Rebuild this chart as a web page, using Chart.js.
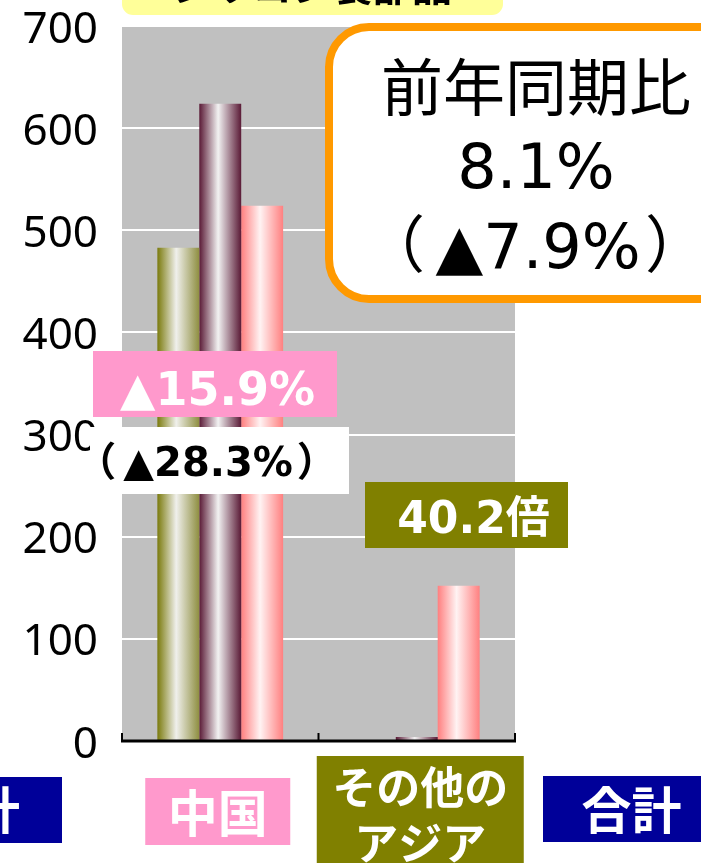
<!DOCTYPE html>
<html><head><meta charset="utf-8">
<script src="https://cdn.jsdelivr.net/npm/chart.js@4/dist/chart.umd.min.js"></script>
<style>html,body{margin:0;padding:0;background:#fff;overflow:hidden}#wrap{width:701px;height:863px;position:relative}canvas{display:block}</style>
</head><body><div id="wrap"><canvas id="c" width="701" height="863"></canvas></div>
<script>
// ---- data ----
const categories = ['中国', 'その他のアジア'];
const seriesNames = ['系列1', '系列2', '系列3'];
const seriesA = [483, 0];
const seriesB = [624, 3.8];
const seriesC = [524, 152];
const yMin = 0, yMax = 700, yStep = 100;
const summaryLines = ['前年同期比', '8.1%', '（▲7.9%）'];
const chinaChange = '▲15.9%';
const chinaChangePrev = '（▲28.3%）';
const asiaChange = '40.2倍';
const titleText = 'シリコン製部品';
const leftCutLabel = '計';
const totalLabel = '合計';

// ---- styles ----
const CAT_PCT = 0.64;
const gradStops = [
  ['#7a7a0c', '#F0F0EC', '#8e8e40'],
  ['#5a1a36', '#F2F2F2', '#5a1a36'],
  ['#FF7f7f', '#FFF3F3', '#FF8080']
];
const CJK = '"Noto Sans CJK JP"';
const LAT = '"DejaVu Sans", "Noto Sans CJK JP"';

function barGrad(ctx) {
  const s = gradStops[ctx.datasetIndex];
  const chart = ctx.chart, a = chart.chartArea, xs = chart.scales && chart.scales.x;
  if (ctx.type !== 'data' || !a || !xs) return s[0];
  const catW = (a.right - a.left) / categories.length;
  const range = catW * CAT_PCT, slot = range / 3;
  const c = xs.getPixelForValue(ctx.dataIndex);
  const x0 = c - range / 2 + slot * ctx.datasetIndex;
  const g = chart.ctx.createLinearGradient(x0, 0, x0 + slot, 0);
  g.addColorStop(0, s[0]); g.addColorStop(0.45, s[1]); g.addColorStop(1, s[2]);
  return g;
}

function rrect(ctx, x, y, w, h, r) {
  ctx.beginPath();
  ctx.moveTo(x + r, y);
  ctx.arcTo(x + w, y, x + w, y + h, r);
  ctx.arcTo(x + w, y + h, x, y + h, r);
  ctx.arcTo(x, y + h, x, y, r);
  ctx.arcTo(x, y, x + w, y, r);
  ctx.closePath();
}

function drawParenText(ctx, text, cx, baseline, em, gl, gr) {
  ctx.textAlign = 'left';
  const inner = text.slice(1, -1), L = text[0], R = text[text.length - 1];
  const wI = ctx.measureText(inner).width;
  const mL = ctx.measureText(L), mR = ctx.measureText(R);
  const inkL = mL.actualBoundingBoxLeft + mL.actualBoundingBoxRight;
  const inkR = mR.actualBoundingBoxLeft + mR.actualBoundingBoxRight;
  const gapL = gl * em, gapR = gr * em;
  const total = inkL + gapL + wI + gapR + inkR;
  let x = cx - total / 2;
  ctx.fillText(L, x + mL.actualBoundingBoxLeft, baseline);
  x += inkL + gapL;
  ctx.fillText(inner, x, baseline);
  x += wI + gapR;
  ctx.fillText(R, x + mR.actualBoundingBoxLeft, baseline);
}

const deco = {
  id: 'deco',
  beforeDraw(chart) {
    const { ctx, chartArea: a } = chart;
    ctx.save();
    ctx.fillStyle = '#C0C0C0';
    ctx.fillRect(a.left, a.top, a.right - a.left, a.bottom - a.top);
    ctx.restore();
  },
  afterDatasetsDraw(chart) {
    const { ctx, chartArea: a } = chart;
    const xs = chart.scales.x;
    ctx.save();
    ctx.strokeStyle = '#000';
    ctx.lineWidth = 3;
    ctx.beginPath();
    ctx.moveTo(a.left - 1, a.bottom); ctx.lineTo(a.right + 1, a.bottom);
    ctx.stroke();
    const bounds = [a.left];
    for (let i = 0; i < categories.length - 1; i++) bounds.push((xs.getPixelForValue(i) + xs.getPixelForValue(i + 1)) / 2);
    bounds.push(a.right);
    ctx.lineWidth = 2;
    bounds.forEach(x => { ctx.beginPath(); ctx.moveTo(x, a.bottom); ctx.lineTo(x, a.bottom - 8); ctx.stroke(); });
    ctx.restore();
  },
  afterDraw(chart) {
    const { ctx, chartArea: a } = chart;
    const xs = chart.scales.x;
    ctx.save();
    // title box (cut at top)
    ctx.fillStyle = '#FFFF99';
    rrect(ctx, a.left, -30, 381, 45, 11); ctx.fill();
    ctx.fillStyle = '#000';
    ctx.font = 'bold 40px ' + CJK;
    ctx.textAlign = 'center'; ctx.textBaseline = 'alphabetic';
    ctx.fillText(titleText, a.left + 190, 1);

    // summary box
    ctx.lineWidth = 8; ctx.strokeStyle = '#FF9900'; ctx.fillStyle = '#FFFFFF';
    rrect(ctx, 329, 27, 440, 272, 40); ctx.fill(); ctx.stroke();
    ctx.fillStyle = '#000';
    ctx.font = '62px ' + LAT;
    ctx.textAlign = 'center';
    ctx.fillText(summaryLines[0], 536, 111);
    ctx.fillText(summaryLines[1], 536, 188);
    drawParenText(ctx, summaryLines[2], 535, 268, 62, 0.2, 0.1);

    // china change boxes
    ctx.fillStyle = '#FF99CC';
    ctx.fillRect(93, 351, 244, 66);
    ctx.fillStyle = '#FFFFFF';
    ctx.font = 'bold 46px ' + LAT;
    ctx.textAlign = 'center';
    ctx.fillText(chinaChange, 217.5, 405);

    ctx.fillStyle = '#FFFFFF';
    ctx.fillRect(90, 427, 259, 67);
    ctx.fillStyle = '#000';
    ctx.font = 'bold 40px ' + LAT;
    drawParenText(ctx, chinaChangePrev, 206.5, 476, 40, 0.2, 0.12);

    // asia change box
    ctx.fillStyle = '#808000';
    ctx.fillRect(365, 482, 203, 66);
    ctx.fillStyle = '#FFFFFF';
    ctx.font = 'bold 44px ' + LAT;
    ctx.textAlign = 'center';
    ctx.fillText(asiaChange, 473.5, 533);

    // category labels
    const c0 = xs.getPixelForValue(0), c1 = xs.getPixelForValue(1);
    ctx.fillStyle = '#FF99CC';
    ctx.fillRect(c0 - 75, 778, 145, 67);
    ctx.fillStyle = '#FFFFFF';
    ctx.font = 'bold 50px ' + CJK;
    ctx.textBaseline = 'middle';
    ctx.fillText(categories[0], c0 - 2.5, 813);

    ctx.fillStyle = '#808000';
    ctx.fillRect(c1 - 100, 756, 207, 120);
    ctx.fillStyle = '#FFFFFF';
    ctx.font = 'bold 44px ' + CJK;
    ctx.fillText(categories[1].slice(0, 4), c1 + 3.5, 787);
    ctx.fillText(categories[1].slice(4), c1 + 3.5, 843);

    ctx.fillStyle = '#000099';
    ctx.fillRect(543, 776, 170, 66);
    ctx.fillRect(0, 777, 62, 66);
    ctx.fillStyle = '#FFFFFF';
    ctx.font = 'bold 50px ' + CJK;
    ctx.fillText(totalLabel, 631.5, 810);
    ctx.textAlign = 'left';
    ctx.fillText(leftCutLabel, -30, 810);
    ctx.restore();
  }
};

new Chart(document.getElementById('c'), {
  type: 'bar',
  data: {
    labels: categories,
    datasets: [
      { label: seriesNames[0], data: seriesA, backgroundColor: barGrad },
      { label: seriesNames[1], data: seriesB, backgroundColor: barGrad },
      { label: seriesNames[2], data: seriesC, backgroundColor: barGrad }
    ]
  },
  options: {
    responsive: false,
    devicePixelRatio: 1,
    animation: false,
    layout: { padding: { left: 0, right: 186, top: 26, bottom: 0 } },
    plugins: { legend: { display: false }, tooltip: { enabled: false }, title: { display: false } },
    datasets: { bar: { categoryPercentage: CAT_PCT, barPercentage: 1.0, borderWidth: 0 } },
    scales: {
      x: {
        ticks: { display: false },
        grid: { display: false },
        border: { display: false },
        afterFit: s => { s.height = 122; s.paddingLeft = 0; s.paddingRight = 0; }
      },
      y: {
        min: yMin, max: yMax,
        ticks: { stepSize: yStep, color: '#000', padding: 24, labelOffset: 4, font: { family: '"Noto Sans"', size: 44 } },
        grid: { color: '#FFFFFF', lineWidth: 2, drawTicks: false },
        border: { display: false },
        afterFit: s => { s.width = 122; s.paddingTop = 0; s.paddingBottom = 0; }
      }
    }
  },
  plugins: [deco]
});
</script>
</body></html>
